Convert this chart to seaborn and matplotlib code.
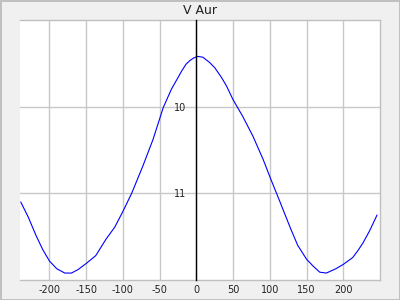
import matplotlib
matplotlib.use("Agg")
import matplotlib.pyplot as plt
import seaborn as sns
import pandas as pd
from matplotlib.ticker import MultipleLocator, FixedLocator

phase = [-239, -229, -218, -209, -200, -190, -179, -170, -161, -150, -137, -123,
         -111, -100, -88, -73, -59, -45, -34, -20, -14, -9, -4, 2, 9, 18, 25, 34,
         41, 50, 63, 77, 91, 102, 113, 128, 138, 150, 159, 168, 177, 190, 200,
         213, 220, 227, 236, 246]
mag = [11.10, 11.27, 11.49, 11.65, 11.78, 11.87, 11.92, 11.92, 11.88, 11.81, 11.72, 11.53,
       11.39, 11.21, 11.00, 10.69, 10.38, 10.01, 9.80, 9.59, 9.51, 9.47, 9.44, 9.42, 9.43, 9.49, 9.55, 9.66,
       9.76, 9.92, 10.11, 10.34, 10.61, 10.85, 11.08, 11.40, 11.60, 11.76, 11.84, 11.91, 11.92, 11.87, 11.82,
       11.74, 11.66, 11.57, 11.43, 11.25]
title = "V Aur"
xticks = [-200, -150, -100, -50, 0, 50, 100, 150, 200]
yticks = [10, 11]

df = pd.DataFrame({"phase": phase, "mag": mag})

sns.set_style("white")
plt.rcParams['font.family'] = ['DejaVu Sans']

fig = plt.figure(figsize=(4, 3), dpi=100)
fig.patch.set_facecolor("#f0f0f0")
fig.patch.set_edgecolor("#c0c0c0")
fig.patch.set_linewidth(2)
ax = fig.add_axes([0.05, 0.0667, 0.9, 0.8667])
ax.set_facecolor("white")

sns.lineplot(data=df, x="phase", y="mag", ax=ax, color="#0000ff", lw=0.8,
             sort=False, estimator=None)

ax.set_xlim(-240, 250)
ax.set_ylim(12.0, 9.0)
ax.set_xlabel("")
ax.set_ylabel("")

ax.xaxis.set_major_locator(FixedLocator(xticks))
ax.xaxis.set_minor_locator(MultipleLocator(10))
ax.yaxis.set_major_locator(FixedLocator(yticks))
ax.yaxis.set_minor_locator(FixedLocator([9.5, 10.5, 11.5]))
ax.set_xticklabels([str(t) for t in xticks])
ax.set_yticklabels([str(t) for t in yticks])

ax.grid(True, which="major", color="#c8c8c8", lw=1)
ax.set_axisbelow(True)

for s in ["top", "right", "bottom"]:
    ax.spines[s].set_color("#c0c0c0")
    ax.spines[s].set_linewidth(1)
ax.spines["left"].set_position(("data", 0))
ax.spines["left"].set_color("black")
ax.spines["left"].set_linewidth(1)
ax.spines["left"].set_zorder(3)

ax.tick_params(axis="x", which="both", direction="in", length=3, width=1,
               color="black", labelsize=7, pad=3.5, labelcolor="#222222")
ax.tick_params(axis="y", which="major", direction="in", length=5, width=1,
               color="black", labelsize=7, pad=7, labelcolor="#222222")
ax.tick_params(axis="y", which="minor", direction="in", length=3, width=1,
               color="black")

ax.set_title(title, fontsize=9, pad=4, color="#222222")

fig.savefig("out.png", dpi=100, facecolor=fig.get_facecolor(), edgecolor=fig.get_edgecolor())
